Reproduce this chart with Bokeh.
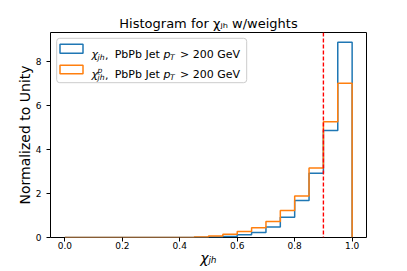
import numpy as np
from bokeh.plotting import figure
from bokeh.models import Label, BoxAnnotation, Span, FixedTicker, Range1d
from bokeh.embed import file_html
from bokeh.resources import INLINE

# ---- data ----
bin_edges = [round(0.05 * i, 2) for i in range(21)]
chi_jh = [0, 0, 0, 0, 0, 0, 0, 0, 0, 0.01, 0.02, 0.05, 0.12, 0.23, 0.48, 0.92, 1.68, 2.92, 4.85, 8.86]
chi_jh_p = [0, 0, 0, 0, 0, 0, 0, 0, 0, 0.02, 0.07, 0.15, 0.27, 0.44, 0.73, 1.23, 1.88, 3.15, 5.25, 7.00]
cut_value = 0.9
x_ticks = [0.0, 0.2, 0.4, 0.6, 0.8, 1.0]
x_tick_labels = ["0.0", "0.2", "0.4", "0.6", "0.8", "1.0"]
y_ticks = [0, 2, 4, 6, 8]
y_tick_labels = ["0", "2", "4", "6", "8"]
title_text = "Histogram for \u03c7\u2c7c\u2095 w/weights"
x_label = "\u03c7\u2c7c\u2095"
y_label = "Normalized to Unity"

BLUE = "#1f77b4"
ORANGE = "#ff7f0e"
FONT = "DejaVu Sans"

p = figure(width=407, height=271, output_backend="svg", toolbar_location=None,
           x_range=Range1d(-0.05, 1.05), y_range=Range1d(0, 9.3),
           min_border_left=50, min_border_right=41, min_border_top=32, min_border_bottom=34)
p.grid.visible = False
p.outline_line_color = "black"
p.outline_line_width = 1
p.background_fill_color = "white"
p.border_fill_color = "white"

p.title.text = title_text
p.title.align = "center"
p.title.text_font = FONT
p.title.text_font_size = "13px"
p.title.text_font_style = "normal"
p.title.text_color = "black"
p.title.standoff = 3

for ax, ticks, labels in ((p.xaxis[0], x_ticks, x_tick_labels), (p.yaxis[0], y_ticks, y_tick_labels)):
    ax.ticker = FixedTicker(ticks=ticks)
    ax.major_label_overrides = {t: l for t, l in zip(ticks, labels)}
    ax.minor_tick_line_color = None
    ax.axis_line_color = None
    ax.major_tick_in = 0
    ax.major_tick_out = 4
    ax.major_tick_line_color = "black"
    ax.major_label_text_font = FONT
    ax.major_label_text_font_size = "9px"
    ax.major_label_text_color = "black"
    ax.axis_label_text_font = FONT
    ax.axis_label_text_font_size = "14px"
    ax.axis_label_text_color = "black"
p.xaxis.major_label_standoff = 0
p.yaxis.major_label_standoff = 5
p.xaxis.axis_label = x_label
p.xaxis.axis_label_text_font_style = "italic"
p.xaxis.axis_label_standoff = -2
p.yaxis.axis_label = y_label
p.yaxis.axis_label_text_font_style = "normal"
p.yaxis.axis_label_standoff = 0


def step_path(edges, vals):
    xs = [edges[0]]
    ys = [0]
    for i, v in enumerate(vals):
        xs += [edges[i], edges[i + 1]]
        ys += [v, v]
    xs.append(edges[-1])
    ys.append(0)
    return xs, ys


for vals, col in ((chi_jh, BLUE), (chi_jh_p, ORANGE)):
    xs, ys = step_path(bin_edges, vals)
    p.line(xs, ys, line_color=col, line_width=1.5)

p.add_layout(Span(location=cut_value, dimension="height", line_color="#ff0000",
                  line_dash="4 2", line_width=1.4, line_alpha=1.0))

# frame-relative screen coordinates (frame left x 50.5, bottom y 236.5 in picture pixels)
FL, FB = 50.5, 236.5


def lab(text, px, py, size, italic=False, **kw):
    p.add_layout(Label(x=px - FL, y=FB - py, x_units="screen", y_units="screen",
                       text=text, text_font=FONT, text_font_size=f"{size}px",
                       text_font_style="italic" if italic else "normal",
                       text_color="black", text_baseline="alphabetic", **kw))


# legend
p.add_layout(BoxAnnotation(left=56.7 - FL, right=246.7 - FL, top=FB - 37.3, bottom=FB - 81.7,
                           left_units="screen", right_units="screen", top_units="screen",
                           bottom_units="screen", fill_color="white", fill_alpha=0.8,
                           line_color="#cccccc", line_alpha=1.0, line_width=1, border_radius=3))
for col, top, bot in ((BLUE, 43.3, 52.3), (ORANGE, 64.3, 72.7)):
    p.add_layout(BoxAnnotation(left=60 - FL, right=83 - FL, top=FB - top, bottom=FB - bot,
                               left_units="screen", right_units="screen", top_units="screen",
                               bottom_units="screen", fill_alpha=0, line_color=col,
                               line_alpha=1.0, line_width=1.5))

for base, sup in ((53.5, False), (73.5, True)):
    lab("\u03c7", 91.5, base, 11, italic=True)
    lab("jh", 97.5, base + 2.5, 7.7, italic=True)
    if sup:
        lab("p", 97.5, base - 4.5, 7.7, italic=True)
    lab(",", 105, base, 11)
    lab("PbPb Jet", 114.7, base, 11)
    lab("p", 163.5, base, 11, italic=True)
    lab("T", 170, base + 2.5, 7.7, italic=True)
    lab("> 200 GeV", 180, base, 11)

open("out.html", "w").write(file_html(p, INLINE))
